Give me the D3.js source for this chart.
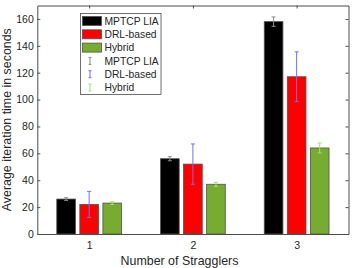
<!DOCTYPE html>
<html><head><meta charset="utf-8">
<script src="https://cdn.jsdelivr.net/npm/d3@7"></script>
<style>body{margin:0;background:#fff}svg{display:block}text{font-family:"Liberation Sans",Arial,sans-serif;fill:#262626}</style>
</head><body><svg id="c" width="357" height="268"></svg>
<script>
const categories = [1, 2, 3];
const seriesNames = ["MPTCP LIA", "DRL-based", "Hybrid"];
const mptcp = [26, 56, 158];
const drl = [22, 52, 117];
const hybrid = [23, 37, 64];
const mptcpErr = [1, 1.5, 3.5];
const drlErr = [9.7, 15, 18.5];
const hybridErr = [1, 1.5, 3.7];
const yTicks = [0, 20, 40, 60, 80, 100, 120, 140, 160];

const values = [mptcp, drl, hybrid];
const errs = [mptcpErr, drlErr, hybridErr];
const barColors = ["#000000", "#ff0000", "#77ac30"];
const errColors = ["#8c8c8c", "#6f6fff", "#99e866"];

const svg = d3.select("#c");
const L = 37.3, R = 348.5, T = 5.5, B = 234;
const x = d3.scaleLinear().domain([0.5, 3.5]).range([L, R]);
const y = d3.scaleLinear().domain([0, 170]).range([B, T]);
const step = (x(2) - x(1));
const off = step * 0.2222;
const bw = off * 0.81;

// bars
values.forEach((vals, s) => {
  svg.append("g").selectAll("rect").data(vals).enter().append("rect")
    .attr("x", (d, i) => x(categories[i]) + (s - 1) * off - bw / 2)
    .attr("y", d => y(d))
    .attr("width", bw)
    .attr("height", d => y(0) - y(d))
    .attr("fill", barColors[s])
    .attr("stroke", "#505050").attr("stroke-width", 0.8);
});
// error bars
values.forEach((vals, s) => {
  const g = svg.append("g").attr("stroke", errColors[s]).attr("stroke-width", 1);
  vals.forEach((d, i) => {
    const cx = x(categories[i]) + (s - 1) * off;
    const e = errs[s][i];
    g.append("line").attr("x1", cx).attr("x2", cx).attr("y1", y(d - e)).attr("y2", y(d + e));
    g.append("line").attr("x1", cx - 2).attr("x2", cx + 2).attr("y1", y(d - e)).attr("y2", y(d - e));
    g.append("line").attr("x1", cx - 2).attr("x2", cx + 2).attr("y1", y(d + e)).attr("y2", y(d + e));
  });
});

// axes
const ax = svg.append("g").attr("transform", `translate(0,${B})`)
  .call(d3.axisBottom(x).tickValues(categories).tickSizeInner(-3).tickSizeOuter(0).tickPadding(8).tickFormat(d3.format("d")));
const ay = svg.append("g").attr("transform", `translate(${L},0)`)
  .call(d3.axisLeft(y).tickValues(yTicks).tickSizeInner(-3).tickSizeOuter(0).tickPadding(3.5));
const axT = svg.append("g").attr("transform", `translate(0,${T})`)
  .call(d3.axisTop(x).tickValues(categories).tickSizeInner(-3).tickSizeOuter(0).tickFormat(""));
const ayR = svg.append("g").attr("transform", `translate(${R},0)`)
  .call(d3.axisRight(y).tickValues(yTicks).tickSizeInner(-3).tickSizeOuter(0).tickFormat(""));
[ax, ay, axT, ayR].forEach(a => {
  a.selectAll("path,line").attr("stroke", "#4d4d4d");
  a.selectAll("text").attr("font-size", 10.5).attr("fill", "#262626").style("font-family", "Liberation Sans, Arial, sans-serif");
});

svg.append("text").attr("x", 179.5).attr("y", 265).attr("text-anchor", "middle")
  .attr("font-size", 12.4).text("Number of Stragglers");
svg.append("text").attr("transform", `translate(10.5,${(T + B) / 2}) rotate(-90)`).attr("text-anchor", "middle")
  .attr("font-size", 12.4).text("Average iteration time in seconds");

// legend
const lg = svg.append("g");
lg.append("rect").attr("x", 80.5).attr("y", 13.5).attr("width", 80.5).attr("height", 81)
  .attr("fill", "#fff").attr("stroke", "#4d4d4d").attr("stroke-width", 0.8);
const rowY = d3.range(6).map(i => 21 + i * 13.3);
seriesNames.forEach((n, s) => {
  lg.append("rect").attr("x", 82.5).attr("y", rowY[s] - 4.5).attr("width", 19).attr("height", 9)
    .attr("fill", barColors[s]).attr("stroke", "#505050").attr("stroke-width", 0.8);
  lg.append("text").attr("x", 104.5).attr("y", rowY[s] + 3.6).attr("font-size", 10.3).text(n);
});
seriesNames.forEach((n, s) => {
  const cy = rowY[s + 3];
  const g = lg.append("g").attr("stroke", errColors[s]).attr("stroke-width", 1);
  g.append("line").attr("x1", 90).attr("x2", 90).attr("y1", cy - 3.5).attr("y2", cy + 3.5);
  g.append("line").attr("x1", 88.5).attr("x2", 91.5).attr("y1", cy - 3.5).attr("y2", cy - 3.5);
  g.append("line").attr("x1", 88.5).attr("x2", 91.5).attr("y1", cy + 3.5).attr("y2", cy + 3.5);
  lg.append("text").attr("x", 104.5).attr("y", cy + 3.6).attr("font-size", 10.3).text(n);
});
</script></body></html>
